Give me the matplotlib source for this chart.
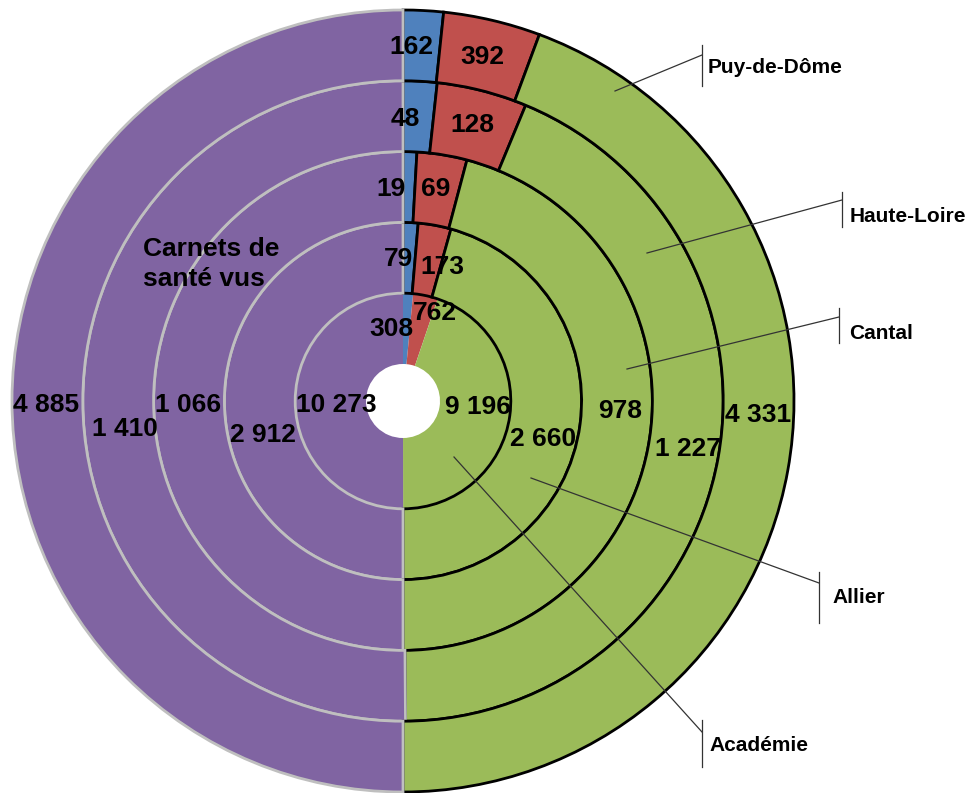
"""Multi-ring donut: carnets de santé per département, one ring per zone."""

import matplotlib

matplotlib.use("Agg")
import matplotlib.pyplot as plt

# data, inner ring -> outer ring
rings = ["Académie", "Allier", "Cantal", "Haute-Loire", "Puy-de-Dôme"]
blue = [308, 79, 19, 48, 162]
red = [762, 173, 69, 128, 392]
green = [9196, 2660, 978, 1227, 4331]
purple = [10273, 2912, 1066, 1410, 4885]
series_title = ["Carnets de", "santé vus"]

COLORS = ["#4F81BD", "#C0504D", "#9BBB59", "#8064A2"]
W, H = 971, 793
CX, CY = 403, H - 401      # donut centre, pixels (y from bottom)
HOLE, RING_W = 37, 70.8

# label centres (x, y from top) per ring: blue, red, green, purple
label_pos = [
    [(391, 327), (435, 311), (478, 404), (336, 403)],
    [(398, 257), (442, 264), (543, 436), (263, 433)],
    [(391, 186), (436, 186), (620, 408), (188, 403)],
    [(405, 117), (472, 123), (688, 446), (125, 427)],
    [(411, 45), (482, 54), (758, 412), (46, 403)],
]
# callouts: start in segment, end on bar, bar y-range, text x, text baseline
callouts = [
    ((454, 457), (702, 732), (720, 767), 709, 751),
    ((531, 478), (819, 583), (572, 623), 832, 603),
    ((627, 369), (839, 317), (308, 343), 849, 339),
    ((647, 253), (842, 200), (192, 227), 850, 222),
    ((615, 91), (702, 55), (45, 86), 708, 73),
]


def fr(n):
    return f"{n:,}".replace(",", " ")


def Y(y):
    return H - y


plt.rcParams["font.family"] = ["Liberation Sans", "DejaVu Sans"]
fig = plt.figure(figsize=(W / 100, H / 100), dpi=100)
ax = fig.add_axes([0, 0, 1, 1])

for i, name in enumerate(rings):
    vals = [blue[i], red[i], green[i], purple[i]]
    wedges, _ = ax.pie(vals, radius=HOLE + (i + 1) * RING_W, center=(CX, CY),
                       startangle=90, counterclock=False, colors=COLORS,
                       wedgeprops=dict(width=RING_W, linewidth=0))
    if i > 0:
        for k, w in enumerate(wedges):
            w.set_edgecolor("#BFBFBF" if k == 3 else "black")
            w.set_linewidth(2.0)
    for k, v in enumerate(vals):
        x, y = label_pos[i][k]
        ax.text(x, Y(y + 9.5), fr(v), ha="center", va="baseline",
                fontsize=19, fontweight="bold", color="black")

for (s, e, bar, tx, ty), name in zip(callouts, rings):
    ax.plot([s[0], e[0]], [Y(s[1]), Y(e[1])], color="#333333", lw=0.9)
    ax.plot([e[0], e[0]], [Y(bar[0]), Y(bar[1])], color="#333333", lw=0.9)
    ax.text(tx, Y(ty), name, ha="left", va="baseline",
            fontsize=15, fontweight="bold", color="black")

for j, line in enumerate(series_title):
    ax.text(143, Y(256 + 30 * j), line, ha="left", va="baseline",
            fontsize=19, fontweight="bold")

ax.set_xlim(0, W)
ax.set_ylim(0, H)
ax.set_aspect("equal")
ax.axis("off")
fig.savefig("out.png", dpi=100)
